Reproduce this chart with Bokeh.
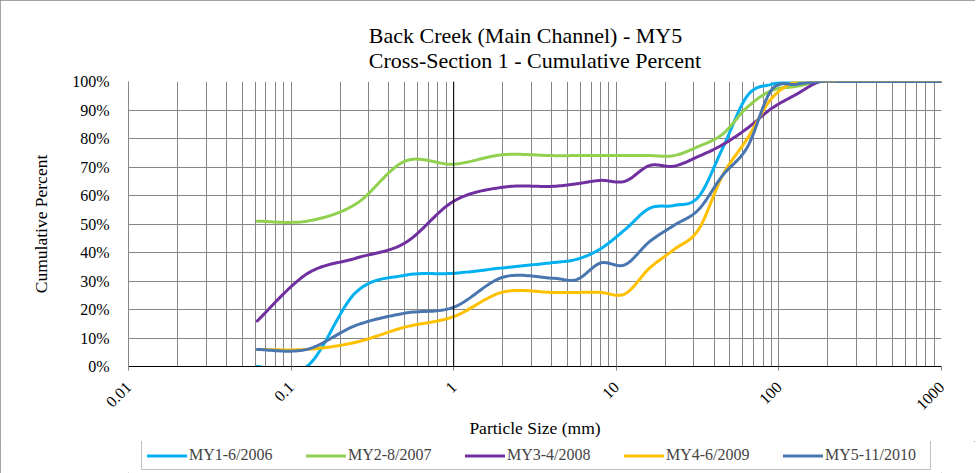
import numpy as np
from bokeh.plotting import figure
from bokeh.layouts import column
from bokeh.models import (FixedTicker, Span, Title, Legend, LegendItem,
                          CustomJSTickFormatter)
from bokeh.embed import file_html
from bokeh.resources import INLINE

# ---------------- data ----------------
sizes_mm = [0.062, 0.125, 0.25, 0.5, 1, 2, 4, 5.7, 8, 11.3, 16, 22.6,
            32, 45, 64, 90, 128, 180, 256, 362, 512, 1024]

my1_2006 = [0, 0, 26, 32, 32.7, 34.6, 36.4, 37.6, 41.3, 48, 55.5, 56.5,
            59.5, 76.5, 95, 99, 100, 100, 100, 100, 100, 100]
my2_2007 = [51, 51, 57, 72, 71, 74.3, 74, 74, 74, 74, 74, 74,
            77.2, 81.5, 91, 96.8, 98.3, 100, 100, 100, 100, 100]
my3_2008 = [16, 32.5, 38, 43.3, 58, 62.9, 63.2, 64.1, 65.3, 65, 70.5, 70.3,
            73.7, 77.8, 83.6, 90.5, 95.5, 100, 100, 100, 100, 100]
my4_2009 = [6, 6, 8.5, 13.8, 17.5, 26.1, 26, 26, 26, 25.5, 34.5, 41,
            48, 67, 80, 94, 100, 100, 100, 100, 100, 100]
my5_2010 = [6, 6, 14.4, 18.7, 20.8, 31.3, 31, 30.5, 36.3, 35.7, 43.8, 49.5,
            55, 67, 77, 97, 99, 100, 100, 100, 100, 100]

series_names = ["MY1-6/2006", "MY2-8/2007", "MY3-4/2008", "MY4-6/2009", "MY5-11/2010"]
series_values = [my1_2006, my2_2007, my3_2008, my4_2009, my5_2010]
series_colors = ["#00B0F0", "#92D050", "#7030A0", "#FFC000", "#4A76B0"]

x_ticks = [0.01, 0.1, 1, 10, 100, 1000]
x_tick_labels = ["0.01", "0.1", "1", "10", "100", "1000"]
y_ticks = [0, 10, 20, 30, 40, 50, 60, 70, 80, 90, 100]
y_tick_labels = ["0%", "10%", "20%", "30%", "40%", "50%", "60%", "70%", "80%", "90%", "100%"]

title_text = "Back Creek (Main Channel) - MY5\nCross-Section 1 - Cumulative Percent"
x_label = "Particle Size (mm)"
y_label = "Cumulative Percent"

FONT = "Liberation Serif"
GRID = "#858585"


def smooth_curve(xs, ys, n=24):
    """Excel-style smoothed line (cubic Bezier through every point), in log-x space."""
    pts = np.column_stack([np.log10(np.asarray(xs, float)), np.asarray(ys, float)])
    P = np.vstack([pts[0], pts, pts[-1]])
    out = []
    for i in range(1, len(P) - 2):
        p0, p1, p2, p3 = P[i - 1], P[i], P[i + 1], P[i + 2]
        c1 = p1 + (p2 - p0) / 6.0
        c2 = p2 - (p3 - p1) / 6.0
        t = np.linspace(0, 1, n)[:, None]
        seg = ((1 - t) ** 3) * p1 + 3 * ((1 - t) ** 2) * t * c1 + 3 * (1 - t) * t ** 2 * c2 + t ** 3 * p2
        out.append(seg if i == 1 else seg[1:])
    arr = np.vstack(out)
    return 10 ** arr[:, 0], arr[:, 1]


# ---------------- main chart ----------------
p = figure(width=975, height=441, x_axis_type="log", x_range=(0.01, 1000), y_range=(0, 100),
           output_backend="svg", toolbar_location=None, title=None,
           min_border_left=128, min_border_right=34, min_border_top=81, min_border_bottom=75)
p.outline_line_color = None
p.background_fill_color = "white"
p.border_fill_color = "white"

minor_x = [m * 10.0 ** e for e in range(-2, 3) for m in range(2, 10)]
p.xaxis.ticker = FixedTicker(ticks=x_ticks, minor_ticks=minor_x)
p.yaxis.ticker = FixedTicker(ticks=y_ticks)
fmt_code = """
const i = tvals.findIndex(t => Math.abs(t - tick) <= 1e-9 * Math.max(1, Math.abs(t)));
return i >= 0 ? tlabels[i] : '';
"""
p.xaxis.formatter = CustomJSTickFormatter(args=dict(tvals=x_ticks, tlabels=x_tick_labels), code=fmt_code)
p.yaxis.formatter = CustomJSTickFormatter(args=dict(tvals=y_ticks, tlabels=y_tick_labels), code=fmt_code)

p.xgrid.grid_line_color = GRID
p.xgrid.minor_grid_line_color = GRID
p.ygrid.grid_line_color = GRID

for ax in (p.xaxis[0], p.yaxis[0]):
    ax.major_label_text_font = FONT
    ax.major_label_text_font_size = "16px"
    ax.major_label_text_color = "black"
    ax.axis_label_text_font = FONT
    ax.axis_label_text_font_size = "17.5px"
    ax.axis_label_text_font_style = "normal"
    ax.axis_label_text_color = "black"
    ax.minor_tick_line_color = None

p.xaxis.axis_label = x_label
p.xaxis.axis_line_color = "black"
p.xaxis.major_tick_line_color = GRID
p.xaxis.major_tick_out = 4
p.xaxis.major_tick_in = 0
p.xaxis.major_label_orientation = np.pi / 4
p.xaxis.major_label_standoff = 14
p.xaxis.axis_label_standoff = 0

p.yaxis.axis_label = y_label
p.yaxis.axis_line_color = GRID
p.yaxis.major_tick_line_color = None
p.yaxis.major_tick_out = 0
p.yaxis.major_tick_in = 0
p.yaxis.major_label_standoff = 19
p.yaxis.axis_label_standoff = 18

p.add_layout(Span(location=1, dimension="height", line_color="black", line_width=1))

for name, vals, col in zip(series_names, series_values, series_colors):
    sx, sy = smooth_curve(sizes_mm, vals)
    p.line(sx, sy, line_width=3, line_color=col, line_cap="round", line_join="round")

title = Title(text=title_text, align="center", text_font=FONT, text_font_size="22px",
              text_font_style="normal", text_color="black", standoff=18)
p.add_layout(title, "above")

# ---------------- legend strip ----------------
# same series, drawn out of view (y range below the data) so only the legend keys show
pl = figure(width=975, height=32, x_range=(0, 1), y_range=(-10, -9), output_backend="svg",
            toolbar_location=None, min_border=0)
pl.axis.visible = False
pl.grid.visible = False
pl.outline_line_color = None
items = []
for name, vals, col in zip(series_names, series_values, series_colors):
    r = pl.line(sizes_mm, vals, line_width=3, line_color=col, line_cap="round")
    items.append(LegendItem(label=name, renderers=[r]))
legend = Legend(items=items, orientation="horizontal", location=(13, 3),
                padding=5, spacing=17, margin=0,
                glyph_width=40, glyph_height=17, label_height=17, label_width=100,
                label_standoff=2, label_text_font=FONT, label_text_font_size="16px",
                border_line_color="#868686", background_fill_color="white")
pl.add_layout(legend)

layout = column(p, pl, spacing=0)
layout.styles = {"outline": "1px solid #868686", "outline-offset": "-1px"}

open("out.html", "w").write(file_html(layout, INLINE))
